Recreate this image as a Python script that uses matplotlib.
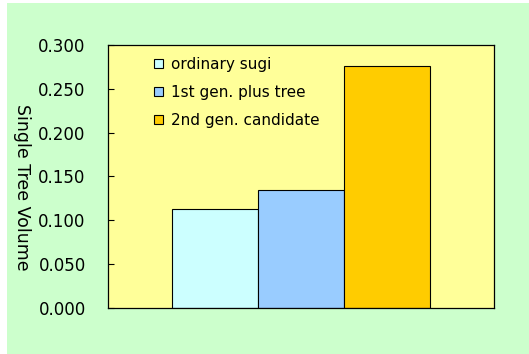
import matplotlib
matplotlib.use('agg')
import matplotlib.pyplot as plt
from matplotlib.patches import Rectangle

categories = ['ordinary sugi', '1st gen. plus tree', '2nd gen. candidate']
volumes = [0.113, 0.134, 0.276]
colors = ['#CCFFFF', '#99CCFF', '#FFCC00']
yticks = [0.0, 0.05, 0.1, 0.15, 0.2, 0.25, 0.3]

plt.rcParams['font.family'] = ['DejaVu Sans']

fig = plt.figure(figsize=(5.29, 3.54), dpi=100)
fig.patch.set_facecolor('#CCFFCC')
# thin white margin at top and left like the original
fig.add_artist(Rectangle((0, 0), 7 / 529, 1, transform=fig.transFigure,
                         facecolor='white', edgecolor='none', zorder=-10))
fig.add_artist(Rectangle((0, 1 - 3 / 354), 1, 3 / 354, transform=fig.transFigure,
                         facecolor='white', edgecolor='none', zorder=-10))
ax = fig.add_axes([0.204, 0.130, 0.730, 0.743])
ax.set_facecolor('#FFFF99')

for i in range(len(categories)):
    ax.bar(i, volumes[i], width=1.0, color=colors[i], edgecolor='black',
           linewidth=0.8, label=categories[i])

ax.set_xlim(-1.25, 3.25)
ax.set_ylim(0, 0.3)
ax.set_xticks([])
ax.set_yticks(yticks)
ax.set_yticklabels(['%.3f' % v for v in yticks], fontsize=12)
ax.tick_params(axis='y', direction='in', length=4, pad=16)
for s in ax.spines.values():
    s.set_linewidth(0.9)

ax.set_ylabel('Single Tree Volume', rotation=270, fontsize=12.5)
ax.yaxis.set_label_coords(-0.245, 0.46)

leg = ax.legend(loc='upper left', bbox_to_anchor=(0.085, 1.008), frameon=False,
                fontsize=11, handlelength=0.55, handleheight=0.55,
                handletextpad=0.5, labelspacing=0.85)

plt.savefig('out.png', dpi=100, facecolor=fig.get_facecolor())
